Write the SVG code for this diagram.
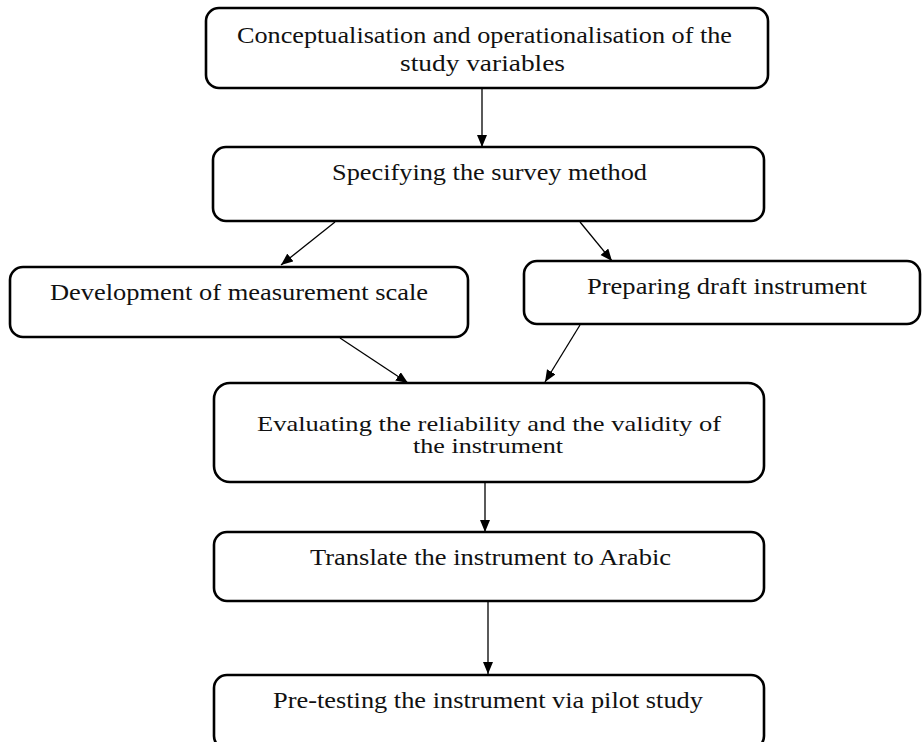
<svg xmlns="http://www.w3.org/2000/svg" width="922" height="742" viewBox="0 0 922 742">
  <style>
    .box { fill: #ffffff; stroke: #000000; stroke-width: 2.6; }
    .label { font-family: "Liberation Serif", "Times New Roman", serif; font-size: 23px; fill: #111111; }
    .tight { font-size: 21px; }
    .link { stroke: #000000; stroke-width: 1.3; fill: none; marker-end: url(#arrow); }
  </style>
  <defs>
    <marker id="arrow" markerUnits="userSpaceOnUse" markerWidth="14" markerHeight="12" refX="12" refY="5" orient="auto">
      <path d="M0,0 L12,5 L0,10 Z" fill="#000000"/>
    </marker>
  </defs>
  <rect width="922" height="742" fill="#ffffff"/>

  <g id="connectors">
    <line class="link" x1="482" y1="88" x2="482" y2="147"/>
    <line class="link" x1="335" y1="222" x2="281" y2="265"/>
    <line class="link" x1="580" y1="222" x2="612" y2="261"/>
    <line class="link" x1="340" y1="338" x2="408" y2="383"/>
    <line class="link" x1="580" y1="325" x2="545" y2="382"/>
    <line class="link" x1="485" y1="482" x2="485" y2="532"/>
    <line class="link" x1="488" y1="601" x2="488" y2="674"/>
  </g>

  <g id="node-conceptualisation">
    <rect class="box" x="206" y="8" width="562" height="80" rx="13"/>
    <text class="label" x="237" y="43" textLength="495" lengthAdjust="spacingAndGlyphs">Conceptualisation and operationalisation of the</text>
    <text class="label" x="400" y="71" textLength="165" lengthAdjust="spacingAndGlyphs">study variables</text>
  </g>

  <g id="node-survey-method">
    <rect class="box" x="213" y="147" width="551" height="74" rx="13"/>
    <text class="label" x="332" y="180" textLength="315" lengthAdjust="spacingAndGlyphs">Specifying the survey method</text>
  </g>

  <g id="node-measurement-scale">
    <rect class="box" x="10" y="267" width="458" height="70" rx="13"/>
    <text class="label" x="50" y="300" textLength="378" lengthAdjust="spacingAndGlyphs">Development of measurement scale</text>
  </g>

  <g id="node-draft-instrument">
    <rect class="box" x="524" y="261" width="396" height="63" rx="13"/>
    <text class="label" x="587" y="294" textLength="280" lengthAdjust="spacingAndGlyphs">Preparing draft instrument</text>
  </g>

  <g id="node-reliability-validity">
    <rect class="box" x="214" y="383" width="550" height="99" rx="16"/>
    <text class="label tight" x="257" y="431" textLength="464" lengthAdjust="spacingAndGlyphs">Evaluating the reliability and the validity of</text>
    <text class="label tight" x="413" y="453" textLength="150" lengthAdjust="spacingAndGlyphs">the instrument</text>
  </g>

  <g id="node-translate">
    <rect class="box" x="214" y="532" width="550" height="69" rx="13"/>
    <text class="label" x="310" y="565" textLength="361" lengthAdjust="spacingAndGlyphs">Translate the instrument to Arabic</text>
  </g>

  <g id="node-pilot-study">
    <rect class="box" x="214" y="675" width="550" height="74" rx="13"/>
    <text class="label" x="273" y="708" textLength="430" lengthAdjust="spacingAndGlyphs">Pre-testing the instrument via pilot study</text>
  </g>
</svg>
